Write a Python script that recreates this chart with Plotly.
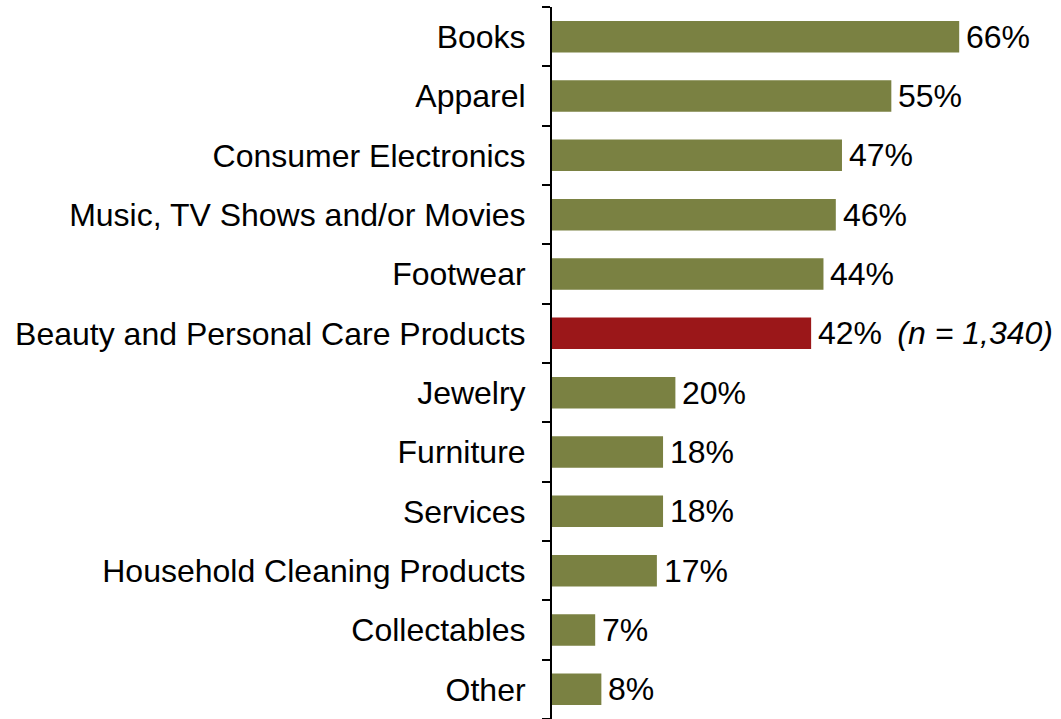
import plotly.graph_objects as go

categories = [
    "Books", "Apparel", "Consumer Electronics", "Music, TV Shows and/or Movies",
    "Footwear", "Beauty and Personal Care Products", "Jewelry", "Furniture",
    "Services", "Household Cleaning Products", "Collectables", "Other",
]
values = [66, 55, 47, 46, 44, 42, 20, 18, 18, 17, 7, 8]
highlight = "Beauty and Personal Care Products"
sample_note = "(n = 1,340)"

GREEN = "#7A8142"
RED = "#9B1719"
FONT = "Liberation Sans, Arial"
SIZE = 32

colors = [RED if c == highlight else GREEN for c in categories]
labels = [
    f"{v}% \u2009<i>{sample_note}</i>" if c == highlight else f"{v}%"
    for c, v in zip(categories, values)
]

fig = go.Figure(
    go.Bar(
        x=values,
        y=categories,
        orientation="h",
        marker=dict(color=colors, line=dict(width=0)),
        width=0.53,
        hoverinfo="x+y",
    )
)

# value labels just past the end of each bar
for c, v, t in zip(categories, values, labels):
    fig.add_annotation(
        x=v, y=c, text=t, showarrow=False,
        xanchor="left", yanchor="middle", xshift=5,
        font=dict(family=FONT, size=SIZE, color="#000000"),
    )

fig.update_layout(
    width=1061,
    height=719,
    margin=dict(l=552, r=0, t=7, b=0),
    paper_bgcolor="white",
    plot_bgcolor="white",
    showlegend=False,
    font=dict(family=FONT, size=SIZE, color="#000000"),
)
fig.update_xaxes(range=[0, 82.5], visible=False)
fig.update_yaxes(
    categoryorder="array",
    categoryarray=categories[::-1],
    showline=True,
    linecolor="#000000",
    linewidth=2,
    ticks="outside",
    tickson="boundaries",
    ticklen=8,
    tickwidth=2,
    tickcolor="#000000",
    ticklabelstandoff=18,
    showgrid=False,
    tickfont=dict(family=FONT, size=SIZE, color="#000000"),
)

fig.write_html("out.html")
